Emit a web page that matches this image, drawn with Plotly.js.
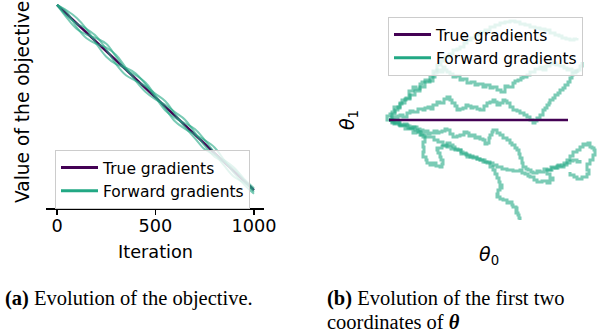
<!DOCTYPE html>
<html>
<head>
<meta charset="utf-8">
<script src="https://cdn.plot.ly/plotly-3.0.1.min.js"></script>
<style>html,body{margin:0;padding:0;background:#fff;}#chart{width:598px;height:336px;}</style>
</head>
<body>
<div id="chart"></div>
<script>
// ---------- (a) objective vs iteration ----------
const iterations = [0,50,100,150,200,250,300,350,400,450,500,550,600,650,700,750,800,850,900,950,1000];
const trueObjective = [1.00,0.95,0.90,0.85,0.80,0.75,0.70,0.65,0.60,0.55,0.50,0.45,0.40,0.35,0.30,0.25,0.20,0.15,0.10,0.05,0.00];
const fwdObjective1 = [1.000,0.960,0.880,0.820,0.790,0.770,0.730,0.660,0.590,0.530,0.490,0.460,0.420,0.380,0.310,0.240,0.180,0.150,0.110,0.050,-0.010];
const fwdObjective2 = [1.000,0.930,0.870,0.840,0.820,0.790,0.720,0.650,0.620,0.580,0.510,0.440,0.370,0.330,0.300,0.270,0.230,0.160,0.090,0.030,-0.020];
const fwdObjective3 = [1.000,0.970,0.930,0.870,0.790,0.720,0.680,0.660,0.630,0.570,0.500,0.430,0.390,0.360,0.330,0.270,0.200,0.130,0.070,0.040,0.000];
const fwdObjective4 = [1.000,0.940,0.900,0.870,0.830,0.760,0.680,0.620,0.590,0.560,0.520,0.480,0.410,0.340,0.280,0.220,0.190,0.160,0.120,0.060,0.010];
const xTickVals = [0,500,1000];
const xTickText = ["0","500","1000"];

// ---------- (b) first two coordinates ----------
const trueTheta0 = [0,179];
const trueTheta1 = [0,0];
const path1Theta0 = [0,-2,1,3,6,5,9,11,13,17,21,20,24,27,31,33,36,40,44,46,48,51,54,56,58,61,64,67,71,74,78,82,86,89,94,97,101,104,108,112,116,119,124,126,129,132,134,138,141,146,151,154,157,161,164,167,171,175,178,180,183,186,188];
const path1Theta1 = [0,4,6,8,9,13,12,16,20,22,25,29,33,31,36,38,40,39,43,47,50,48,53,50,48,46,43,44,40,41,37,38,35,36,33,35,32,33,30,28,34,33,37,39,40,42,43,45,48,51,53,50,54,56,57,55,54,52,50,51,48,49,47];
const path2Theta0 = [0,3,6,9,11,14,18,21,24,29,34,36,39,42,44,48,51,55,58,61,63,66,68,71,74,77,79,82,84,88,91,95,98,101,104,106,108,111,114,116,118,121,124,128,131,135,138,141,144,146,148,151,154,156,158,160,161,164,166,169,171,174,176,179,181,183,184,187,189,191,193];
const path2Theta1 = [0,3,2,4,5,3,7,9,8,11,10,12,13,11,15,18,17,21,23,20,17,14,10,11,12,15,14,12,13,11,10,14,17,18,20,18,15,17,20,19,17,13,10,9,7,5,3,0,-3,-1,2,5,10,12,15,17,20,22,25,27,30,32,35,38,42,45,47,49,50,54,58];
const path3Theta0 = [0,3,6,9,11,15,18,21,24,28,31,34,36,39,41,45,48,50,53,56,58,61,64,68,71,75,78,80,83,86,88,91,94,96,98,100,101,103,104,108,111,114,118,121,123,126,128,130,131,133,134,137,139,142,144,148,151,155,158,162,166,169,171,175,178,181,184,188,191,194,196,199,201,203,205,206,204,201,198,200,198,193,188,185,181];
const path3Theta1 = [0,-2,-3,-1,-5,-4,-6,-8,-7,-9,-10,-12,-11,-14,-13,-11,-13,-12,-11,-9,-10,-14,-17,-16,-15,-12,-13,-16,-15,-18,-17,-19,-20,-24,-23,-18,-15,-12,-10,-13,-15,-18,-20,-23,-25,-28,-30,-34,-38,-43,-47,-49,-50,-52,-53,-51,-52,-49,-50,-47,-48,-45,-47,-43,-40,-36,-32,-30,-27,-24,-25,-23,-27,-28,-30,-35,-40,-44,-50,-54,-57,-59,-57,-55,-52];
const path4Theta0 = [0,3,6,10,14,19,24,26,29,32,34,36,34,35,34,37,38,41,44,47,51,53,54,52,51,49,48,53,58,61,64,66,69,72,74,77,79,81,84,88,91,94,98,101,104,106,108,110,111,113,111,109,108,111,114,118,121,123,124,127,128,127,129,130,131];
const path4Theta1 = [0,-3,-2,-5,-5,-8,-7,-10,-12,-15,-17,-22,-27,-32,-37,-40,-43,-45,-43,-46,-47,-44,-40,-37,-33,-30,-28,-26,-23,-25,-27,-29,-30,-32,-33,-35,-35,-37,-37,-39,-40,-42,-43,-47,-50,-54,-58,-62,-65,-68,-70,-74,-77,-79,-80,-83,-82,-85,-87,-88,-90,-93,-95,-98,-100];
const path5Theta0 = [0,5,11,16,24,27,31,36,41,45,49,54,58,62,66,72,78,81,84,88,91,96,101,104,108,113,118,124,131,133,136,139,141,145,148,153,158,161,164,161,158,163,168,173,178,181,184,188,191];
const path5Theta1 = [0,-4,-6,-9,-13,-12,-15,-17,-17,-20,-22,-25,-27,-29,-30,-34,-37,-36,-38,-39,-40,-42,-43,-45,-47,-49,-50,-51,-50,-53,-54,-56,-57,-60,-62,-61,-63,-60,-58,-54,-50,-48,-46,-45,-43,-41,-40,-42,-40];
const path6Theta0 = [0,3,6,9,11,16,21,26,31,36,41,44,48,52,56,60,64,68,71,75,78,82,86,91,96,101,106,111,116,121,126,131,136,141,146,151,156,161,166,170,173,177,181,185,188];
const path6Theta1 = [0,6,10,13,17,21,25,29,33,38,43,49,55,59,63,66,70,71,73,77,80,82,85,88,90,93,95,97,98,99,98,96,95,93,92,91,90,87,85,84,82,81,80,81,82];

const seriesNames = ["True gradients","Forward gradients"];
const PURPLE = "#440154";
const TEAL = "#22a884";
const TEAL_A = "rgba(34,168,132,0.6)";
const W = 598, H = 336;

const traces = [];
// left subplot
traces.push({x: iterations, y: trueObjective, type: "scatter", mode: "lines",
  line: {color: PURPLE, width: 2.5}, xaxis: "x", yaxis: "y", showlegend: false, hoverinfo: "skip"});
[fwdObjective1, fwdObjective2, fwdObjective3, fwdObjective4].forEach(v => {
  traces.push({x: iterations, y: v, type: "scatter", mode: "lines",
    line: {color: TEAL_A, width: 2, shape: "spline"}, xaxis: "x", yaxis: "y", showlegend: false, hoverinfo: "skip"});
});
traces.push({x: [null], y: [null], type: "scatter", mode: "lines", name: seriesNames[0],
  line: {color: PURPLE, width: 3}, xaxis: "x", yaxis: "y", legend: "legend", legendrank: 1});
traces.push({x: [null], y: [null], type: "scatter", mode: "lines", name: seriesNames[1],
  line: {color: TEAL, width: 3}, xaxis: "x", yaxis: "y", legend: "legend", legendrank: 2});

// right subplot
[[path1Theta0,path1Theta1],[path2Theta0,path2Theta1],[path3Theta0,path3Theta1],
 [path4Theta0,path4Theta1],[path5Theta0,path5Theta1],[path6Theta0,path6Theta1]].forEach(p => {
  traces.push({x: p[0], y: p[1], type: "scatter", mode: "lines",
    line: {color: TEAL_A, width: 3, shape: "hv"}, xaxis: "x2", yaxis: "y2", showlegend: false, hoverinfo: "skip"});
});
traces.push({x: trueTheta0, y: trueTheta1, type: "scatter", mode: "lines",
  line: {color: PURPLE, width: 2.5}, xaxis: "x2", yaxis: "y2", showlegend: false, hoverinfo: "skip"});
traces.push({x: [null], y: [null], type: "scatter", mode: "lines", name: seriesNames[0],
  line: {color: PURPLE, width: 3}, xaxis: "x2", yaxis: "y2", legend: "legend2", legendrank: 1});
traces.push({x: [null], y: [null], type: "scatter", mode: "lines", name: seriesNames[1],
  line: {color: TEAL, width: 3}, xaxis: "x2", yaxis: "y2", legend: "legend2", legendrank: 2});

const FONT = "DejaVu Sans";
const legendStyle = (x, y) => ({x: x, y: y, xanchor: "left", yanchor: "top",
  bgcolor: "rgba(255,255,255,0.8)", bordercolor: "#cccccc", borderwidth: 1,
  itemwidth: 37,
  font: {family: FONT, size: 15.5, color: "#000"}, tracegroupgap: 0});

const layout = {
  width: W, height: H,
  margin: {l: 0, r: 0, t: 0, b: 0},
  paper_bgcolor: "#fff", plot_bgcolor: "rgba(0,0,0,0)",
  showlegend: true,
  xaxis: {domain: [46/W, 264/W], range: [-56, 1051], showgrid: false, zeroline: false,
    showline: true, linecolor: "#000", linewidth: 1.5, ticks: "outside", ticklen: 5, tickwidth: 1.5, tickcolor: "#000",
    ticklabelstandoff: -4,
    tickvals: xTickVals, ticktext: xTickText, tickfont: {family: FONT, size: 17.7, color: "#000"}},
  yaxis: {domain: [1 - 208/H, 1 - 2/H], range: [-0.097, 1.016], showgrid: false, zeroline: false,
    showline: false, showticklabels: false, ticks: ""},
  xaxis2: {domain: [380/W, 1], range: [-9, 209], visible: false},
  yaxis2: {domain: [1 - 225/H, 1 - 15/H], range: [-105, 105], visible: false},
  legend: legendStyle(55/W, 1 - 150/H),
  legend2: legendStyle(388/W, 1 - 17/H),
  annotations: [
    {text: "Iteration", x: 155/W, y: 1 - 252/H, xref: "paper", yref: "paper", showarrow: false,
      xanchor: "center", yanchor: "middle", font: {family: FONT, size: 17.7, color: "#000"}},
    {text: "Value of the objective", x: 22/W, y: 1 - 102/H, xref: "paper", yref: "paper", showarrow: false,
      textangle: -90, xanchor: "center", yanchor: "middle", font: {family: FONT, size: 18.6, color: "#000"}},
    {text: "<i>θ</i><sub>0</sub>", x: 489/W, y: 1 - 255/H, xref: "paper", yref: "paper", showarrow: false,
      xanchor: "center", yanchor: "middle", font: {family: FONT, size: 19, color: "#000"}},
    {text: "<i>θ</i><sub>1</sub>", x: 348/W, y: 1 - 120/H, xref: "paper", yref: "paper", showarrow: false,
      textangle: -90, xanchor: "center", yanchor: "middle", font: {family: FONT, size: 19, color: "#000"}},
    {text: "<b>(a)</b> Evolution of the objective.", x: 3/W, y: 1 - 298/H, xref: "paper", yref: "paper", showarrow: false,
      xanchor: "left", yanchor: "middle", font: {family: "Liberation Serif", size: 20.5, color: "#000"}},
    {text: "<b>(b)</b> Evolution of the first two", x: 325/W, y: 1 - 298/H, xref: "paper", yref: "paper", showarrow: false,
      xanchor: "left", yanchor: "middle", font: {family: "Liberation Serif", size: 20.5, color: "#000"}},
    {text: "coordinates of <b><i>θ</i></b>", x: 325/W, y: 1 - 322/H, xref: "paper", yref: "paper", showarrow: false,
      xanchor: "left", yanchor: "middle", font: {family: "Liberation Serif", size: 20.5, color: "#000"}}
  ]
};

Plotly.newPlot("chart", traces, layout, {staticPlot: true, displayModeBar: false});
</script>
</body>
</html>
